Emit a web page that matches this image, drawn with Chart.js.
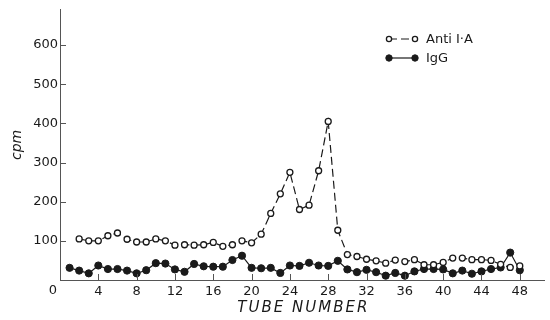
<!DOCTYPE html>
<html><head><meta charset="utf-8">
<script src="https://cdn.jsdelivr.net/npm/chart.js@4/dist/chart.umd.min.js"></script>
<style>html,body{margin:0;padding:0;background:#fff}#wrap{width:550px;height:320px}</style>
</head><body><div id="wrap"><canvas id="c" width="550" height="320"></canvas></div>
<script>
const antiLabel = 'Anti I\u00b7A';
const igLabel = 'IgG';
const antiTubes = [2,3,4,5,6,7,8,9,10,11,12,13,14,15,16,17,18,19,20,21,22,23,24,25,26,27,28,29,30,31,32,33,34,35,36,37,38,39,40,41,42,43,44,45,46,47,48];
const antiCpm = [105,100,100,113,120,104,97,97,105,100,89,90,89,90,96,86,90,100,95,117,170,220,275,180,191,279,405,127,65,60,53,49,43,51,47,52,39,39,45,56,56,52,52,50,40,32,36];
const igTubes = [1,2,3,4,5,6,7,8,9,10,11,12,13,14,15,16,17,18,19,20,21,22,23,24,25,26,27,28,29,30,31,32,33,34,35,36,37,38,39,40,41,42,43,44,45,46,47,48];
const igCpm = [31,24,17,37,28,28,24,17,25,43,42,27,21,41,35,34,34,51,62,31,30,31,18,37,36,44,37,36,49,27,20,26,20,11,18,11,22,28,28,27,17,24,16,22,28,32,70,25];
const xTickValues = [4,8,12,16,20,24,28,32,36,40,44,48];
const yTickValues = [100,200,300,400,500,600];
const originLabel = '0';
const xTitle = 'TUBE NUMBER';
const yTitle = 'cpm';

const INK = '#1a1a1a';
const AXIS = '#555';
const FONT = 'DejaVu Sans, Liberation Sans, sans-serif';

const toPts = (xs, ys) => xs.map((x, i) => ({x: x, y: ys[i]}));

const decor = {
  id: 'decor',
  afterDraw(chart) {
    const ctx = chart.ctx;
    const xs = chart.scales.x, ys = chart.scales.y;
    const ca = chart.chartArea;
    ctx.save();
    ctx.strokeStyle = AXIS;
    ctx.lineWidth = 1;
    ctx.beginPath();
    xs.ticks.forEach(t => {
      const px = Math.round(xs.getPixelForValue(t.value)) + 0.5;
      ctx.moveTo(px, ca.bottom); ctx.lineTo(px, ca.bottom - 6);
    });
    ys.ticks.forEach(t => {
      const py = Math.round(ys.getPixelForValue(t.value)) + 0.5;
      ctx.moveTo(ca.left, py); ctx.lineTo(ca.left + 6, py);
    });
    ctx.stroke();
    ctx.fillStyle = INK;
    ctx.font = '13px ' + FONT;
    ctx.textAlign = 'center';
    ctx.textBaseline = 'middle';
    ctx.fillText(originLabel, ca.left - 7, ca.bottom + 11);
    // x axis title, letter-spaced like the original
    ctx.save();
    ctx.font = 'italic 15px ' + FONT;
    try { ctx.letterSpacing = '2px'; } catch (e) {}
    ctx.textAlign = 'center';
    ctx.fillText(xTitle, (ca.left + ca.right) / 2 + 1, 308);
    ctx.restore();
    const lx0 = 389, lx1 = 415, tx = 426;
    const rows = [39, 58];
    chart.data.datasets.forEach((ds, i) => {
      const y = rows[i];
      ctx.strokeStyle = INK;
      ctx.lineWidth = 1.2;
      ctx.setLineDash(ds.borderDash || []);
      ctx.beginPath(); ctx.moveTo(lx0, y); ctx.lineTo(lx1, y); ctx.stroke();
      ctx.setLineDash([]);
      [lx0, lx1].forEach(cx => {
        ctx.beginPath(); ctx.arc(cx, y, ds.pointRadius - 0.4, 0, Math.PI * 2);
        ctx.fillStyle = ds.pointBackgroundColor; ctx.fill();
        ctx.lineWidth = ds.pointBorderWidth; ctx.strokeStyle = INK; ctx.stroke();
      });
      ctx.fillStyle = INK;
      ctx.font = '13px ' + FONT;
      ctx.textAlign = 'left';
      ctx.textBaseline = 'middle';
      ctx.fillText(ds.label, tx, y + 1);
    });
    ctx.restore();
  }
};

new Chart(document.getElementById('c'), {
  type: 'line',
  data: {
    datasets: [
      {label: antiLabel, data: toPts(antiTubes, antiCpm), borderColor: INK, borderWidth: 1.2, borderDash: [8, 4],
       pointRadius: 3, pointBackgroundColor: '#fff', pointBorderColor: INK, pointBorderWidth: 1.3, tension: 0},
      {label: igLabel, data: toPts(igTubes, igCpm), borderColor: INK, borderWidth: 1.2,
       pointRadius: 3.6, pointBackgroundColor: INK, pointBorderColor: INK, pointBorderWidth: 1, tension: 0}
    ]
  },
  options: {
    responsive: false,
    animation: false,
    devicePixelRatio: 1,
    layout: {padding: {top: 7, right: 2, left: 0, bottom: 0}},
    plugins: {legend: {display: false}, tooltip: {enabled: false}},
    scales: {
      x: {
        type: 'linear', min: 0, max: 50.6,
        afterBuildTicks: a => { a.ticks = xTickValues.map(v => ({value: v})); },
        afterFit: s => { s.height = 40; },
        grid: {display: false, drawTicks: false, tickLength: 0},
        border: {display: true, color: AXIS, width: 1},
        ticks: {color: INK, font: {family: FONT, size: 13}, padding: 4, maxRotation: 0, autoSkip: false,
                callback: v => String(v)},
        title: {display: false}
      },
      y: {
        min: 0, max: 690,
        afterBuildTicks: a => { a.ticks = yTickValues.map(v => ({value: v})); },
        afterFit: s => { s.width = 60; },
        grid: {display: false, drawTicks: false, tickLength: 0},
        border: {display: true, color: AXIS, width: 1},
        ticks: {color: INK, font: {family: FONT, size: 13}, padding: 2, autoSkip: false, callback: v => String(v)},
        title: {display: true, text: yTitle, color: INK, font: {family: FONT, size: 14, style: 'italic'}, padding: {top: 9, bottom: 0}}
      }
    }
  },
  plugins: [decor]
});
</script></body></html>
